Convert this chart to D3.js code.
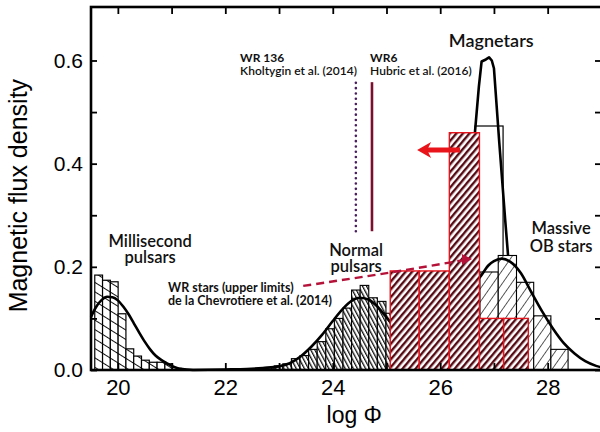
<!DOCTYPE html>
<html>
<head>
<meta charset="utf-8">
<script src="https://cdn.jsdelivr.net/npm/d3@7"></script>
<style>
body { margin: 0; background: #fff; }
svg { display: block; }
.tick line { stroke: #000; stroke-width: 1.8; }
.tick text { font-family: "Liberation Sans", Arial, sans-serif; fill: #000; }
.ann { font-family: Lato, "Open Sans", sans-serif; fill: #111; }
</style>
</head>
<body>
<svg width="600" height="432"></svg>
<script>
// millisecond pulsars
var msEdges = [19.57, 19.715, 19.86, 20.005, 20.15, 20.295, 20.44, 20.585, 20.73, 20.875, 21.02];
var msHeights = [0.184, 0.174, 0.171, 0.109, 0.041, 0.027, 0.019, 0.015, 0.015, 0.012];
var msCurveX = [19.5, 19.6, 19.7, 19.8, 19.9, 20.0, 20.1, 20.2, 20.3, 20.4, 20.5, 20.6, 20.7, 20.8, 20.9, 21.0, 21.1, 21.2, 21.4];
var msCurveY = [0.103, 0.123, 0.136, 0.142, 0.141, 0.135, 0.123, 0.108, 0.090, 0.072, 0.055, 0.040, 0.028, 0.020, 0.014, 0.008, 0.004, 0.002, 0];

// normal pulsars
var npEdges = [22.75, 22.91, 23.07, 23.23, 23.39, 23.55, 23.71, 23.87, 24.03, 24.19, 24.35, 24.51, 24.67, 24.83, 24.99, 25.15];
var npHeights = [0.004, 0.008, 0.012, 0.022, 0.028, 0.040, 0.055, 0.080, 0.100, 0.120, 0.155, 0.164, 0.140, 0.133, 0.110];
var npCurveX = [21.4, 22.0, 22.4, 22.7, 23.0, 23.2, 23.4, 23.6, 23.8, 24.0, 24.2, 24.35, 24.5, 24.65, 24.8, 25.0, 25.2, 25.4];
var npCurveY = [0, 0.001, 0.002, 0.004, 0.007, 0.013, 0.026, 0.045, 0.068, 0.095, 0.120, 0.134, 0.140, 0.137, 0.126, 0.102, 0.075, 0.049];

// magnetars
var mgEdges = [26.65, 27.17];
var mgHeights = [0.473];
var mgCurveX = [26.55, 26.65, 26.72, 26.77, 26.85, 26.91, 26.96, 27.0, 27.1, 27.21, 27.28];
var mgCurveY = [0.33, 0.465, 0.55, 0.598, 0.602, 0.606, 0.60, 0.585, 0.44, 0.29, 0.20];

// massive OB stars
var obEdges = [26.74, 27.08, 27.42, 27.74, 28.06, 28.38];
var obHeights = [0.19, 0.222, 0.17, 0.105, 0.04];
var obCurveX = [26.5, 26.74, 26.9, 27.0, 27.15, 27.3, 27.5, 27.7, 27.9, 28.1, 28.3, 28.5, 28.7, 28.9, 29.1];
var obCurveY = [0.157, 0.180, 0.203, 0.211, 0.216, 0.210, 0.188, 0.150, 0.113, 0.080, 0.052, 0.032, 0.017, 0.008, 0.003];

// WR stars (upper limits)
var wrEdges = [25.07, 25.61, 26.17, 26.73, 27.18, 27.64];
var wrHeights = [0.192, 0.192, 0.46, 0.10, 0.10];

// WR 136 / WR6 measurements
var wrLinesX = [24.43, 24.73];
var wrLinesY = [0.269, 0.558];

var xTickVals = [20, 21, 22, 23, 24, 25, 26, 27, 28, 29];
var xTickLabels = ["20", "", "22", "", "24", "", "26", "", "28", ""];
var yTickVals = [0, 0.1, 0.2, 0.3, 0.4, 0.5, 0.6];
var yTickLabels = ["0.0", "", "0.2", "", "0.4", "", "0.6"];

// annotation blocks: lines of text, anchor position in data coords
var annLines = [["Magnetars"], ["WR 136", "Kholtygin et al. (2014)"], ["WR6", "Hubric et al. (2016)"],
                ["Millisecond", "pulsars"], ["Normal", "pulsars"], ["Massive", "OB stars"],
                ["WR stars (upper limits)", "de la Chevrotiere et al. (2014)"]];
var annX = [26.95, 22.275, 24.695, 20.6, 24.435, 28.25, 20.934];
var annY = [0.626, 0.597, 0.597, 0.238, 0.2205, 0.2645, 0.1503];

var margin = {top: 7, left: 91},
    width = 512,
    height = 363;

var svg = d3.select("svg");
var defs = svg.append("defs");

function stripes(id, period, sw, angle, color) {
  var p = defs.append("pattern")
      .attr("id", id)
      .attr("patternUnits", "userSpaceOnUse")
      .attr("width", period)
      .attr("height", period)
      .attr("patternTransform", "rotate(" + angle + ")");
  p.append("rect").attr("width", period).attr("height", period).attr("fill", "#fff");
  p.append("rect").attr("width", sw).attr("height", period).attr("fill", color);
}
stripes("hatch-ms", 8, 1, -58, "#111");     // shallow "\"
stripes("hatch-np", 3.6, 1.3, -28, "#111");  // dense steep "\"
stripes("hatch-ob", 7.5, 0.8, 35, "#333");   // "/"
stripes("hatch-wr", 5, 2.4, 40, "#560a14");  // red bars "/"

var g = svg.append("g")
    .attr("transform", "translate(" + margin.left + "," + margin.top + ")");

var x = d3.scaleLinear().domain([19.5, 29.03]).range([0, width]);
var y = d3.scaleLinear().domain([0, 0.7037]).range([height, 0]);

function binData(edges, heights) {
  return heights.map(function(h, i) { return {x0: edges[i], x1: edges[i + 1], h: h}; });
}
function drawBars(data, fill, stroke, sw) {
  g.append("g").selectAll("rect")
      .data(data)
    .enter().append("rect")
      .attr("x", function(d) { return x(d.x0); })
      .attr("y", function(d) { return y(d.h); })
      .attr("width", function(d) { return x(d.x1) - x(d.x0); })
      .attr("height", function(d) { return y(0) - y(d.h); })
      .attr("fill", fill)
      .attr("stroke", stroke)
      .attr("stroke-width", sw);
}
function drawCurve(xs, ys, curve) {
  var line = d3.line()
      .x(function(d) { return x(d[0]); })
      .y(function(d) { return y(d[1]); })
      .curve(curve || d3.curveMonotoneX);
  g.append("path")
      .datum(xs.map(function(v, i) { return [v, ys[i]]; }))
      .attr("d", line)
      .attr("fill", "none")
      .attr("stroke", "#000")
      .attr("stroke-width", 2.6)
      .attr("stroke-linejoin", "round");
}

// magnetars first, OB bars sit over their lower part
drawBars(binData(mgEdges, mgHeights), "#fff", "#000", 1.2);
drawCurve(mgCurveX, mgCurveY, d3.curveLinear);
drawBars(binData(obEdges, obHeights), "url(#hatch-ob)", "#000", 1.1);
drawCurve(obCurveX, obCurveY);

drawBars(binData(msEdges, msHeights), "url(#hatch-ms)", "#000", 1.2);
drawCurve(msCurveX, msCurveY);
drawBars(binData(npEdges, npHeights), "url(#hatch-np)", "#000", 1.1);
drawCurve(npCurveX, npCurveY);

// red WR upper limits on top
drawBars(binData(wrEdges, wrHeights), "url(#hatch-wr)", "#e3141c", 1.4);
g.append("g").selectAll("line")
    .data([wrEdges[2], wrEdges[4]])
  .enter().append("line")
    .attr("x1", function(d) { return x(d); })
    .attr("x2", function(d) { return x(d); })
    .attr("y1", y(0))
    .attr("y2", function(d, i) { return y(i === 0 ? wrHeights[1] : wrHeights[3]); })
    .attr("stroke", "#e3141c")
    .attr("stroke-width", 1.2)
    .attr("stroke-dasharray", "4,3");

// vertical WR lines
g.append("line")
    .attr("x1", x(wrLinesX[0])).attr("x2", x(wrLinesX[0]))
    .attr("y1", y(wrLinesY[0])).attr("y2", y(wrLinesY[1]))
    .attr("stroke", "#4a1f5e")
    .attr("stroke-width", 2.6)
    .attr("stroke-linecap", "round")
    .attr("stroke-dasharray", "0,5.3");
g.append("line")
    .attr("x1", x(wrLinesX[1])).attr("x2", x(wrLinesX[1]))
    .attr("y1", y(wrLinesY[0])).attr("y2", y(wrLinesY[1]))
    .attr("stroke", "#7a0f2e")
    .attr("stroke-width", 2.6);

// axes
g.append("g")
    .attr("transform", "translate(0," + height + ")")
    .call(d3.axisBottom(x).tickValues(xTickVals).tickSizeInner(-7).tickSizeOuter(0).tickPadding(9)
      .tickFormat(function(d, i) { return xTickLabels[i]; }))
    .call(function(s) { s.select(".domain").remove(); })
    .selectAll("text").style("font-size", "22px");
g.append("g")
    .call(d3.axisTop(x).tickValues(xTickVals).tickSizeInner(-7).tickSizeOuter(0).tickFormat(""))
    .call(function(s) { s.select(".domain").remove(); });
g.append("g")
    .call(d3.axisLeft(y).tickValues(yTickVals).tickSizeInner(-6).tickSizeOuter(0).tickPadding(8)
      .tickFormat(function(d, i) { return yTickLabels[i]; }))
    .call(function(s) { s.select(".domain").remove(); })
    .selectAll("text").style("font-size", "21px");
g.append("g")
    .attr("transform", "translate(" + width + ",0)")
    .call(d3.axisRight(y).tickValues(yTickVals).tickSizeInner(-8).tickSizeOuter(0).tickFormat(""))
    .call(function(s) { s.select(".domain").remove(); });

g.append("rect")
    .attr("width", width)
    .attr("height", height)
    .attr("fill", "none")
    .attr("stroke", "#000")
    .attr("stroke-width", 2.6);

svg.append("text")
    .attr("transform", "translate(27," + (margin.top + y(0.338)) + ") rotate(-90)")
    .attr("text-anchor", "middle")
    .style("font-family", "'Liberation Sans', Arial, sans-serif")
    .style("font-size", "25px")
    .text("Magnetic flux density");

svg.append("text")
    .attr("x", margin.left + x(24.4))
    .attr("y", 423)
    .attr("text-anchor", "middle")
    .style("font-family", "'Liberation Sans', Arial, sans-serif")
    .style("font-size", "23px")
    .text("log \u03A6");

// annotations: one text element per block, lines as tspans
var annSize = [18, 12, 12, 16.5, 16.5, 16.5, 12.5];
var annGap = [0, 12.5, 12.5, 16, 16, 18, 13];
var annBold = [[0], [1, 0], [1, 0], [0, 0], [0, 0], [0, 0], [1, 1]];
var annAnchor = ["middle", "start", "start", "middle", "middle", "middle", "start"];

g.append("g").selectAll("text")
    .data(annLines)
  .enter().append("text")
    .attr("class", "ann")
    .attr("y", function(d, i) { return y(annY[i]); })
    .attr("text-anchor", function(d, i) { return annAnchor[i]; })
    .style("font-size", function(d, i) { return annSize[i] + "px"; })
    .each(function(lines, i) {
      d3.select(this).selectAll("tspan")
          .data(lines)
        .enter().append("tspan")
          .attr("x", x(annX[i]))
          .attr("dy", function(d, j) { return j === 0 ? 0 : annGap[i]; })
          .style("font-weight", function(d, j) { return annBold[i][j] ? 700 : 600; })
          .text(function(d) { return d; });
    });

// dashed arrow from WR label to red bars
var dashX = [23.45, 25.07, 26.59];
var dashY = [0.163, 0.189, 0.215];
var dashPts = dashX.map(function(v, i) { return [x(v), y(dashY[i])]; });
g.append("path")
    .attr("d", d3.line().curve(d3.curveNatural)(dashPts.slice(0, 2).concat([[dashPts[2][0] - 8, dashPts[2][1] + 1]])))
    .attr("fill", "none")
    .attr("stroke", "#b5123a")
    .attr("stroke-width", 2.4)
    .attr("stroke-dasharray", "8,5");
var tip = dashPts[2];
g.append("path")
    .attr("d", "M" + tip[0] + "," + tip[1] + "L" + (tip[0] - 10) + "," + (tip[1] - 5) + "L" + (tip[0] - 10) + "," + (tip[1] + 6) + "Z")
    .attr("fill", "#b5123a");

// red arrow pointing left
var arrX = [26.37, 25.57], arrY = 0.4265;
var ax0 = x(arrX[0]), ax1 = x(arrX[1]), ay = y(arrY);
g.append("line")
    .attr("x1", ax0).attr("x2", ax1 + 9)
    .attr("y1", ay).attr("y2", ay)
    .attr("stroke", "#e8141a")
    .attr("stroke-width", 5);
g.append("path")
    .attr("d", "M" + ax1 + "," + ay + "L" + (ax1 + 14) + "," + (ay - 8) + "L" + (ax1 + 10) + "," + ay + "L" + (ax1 + 14) + "," + (ay + 8) + "Z")
    .attr("fill", "#e8141a");
</script>
</body>
</html>
